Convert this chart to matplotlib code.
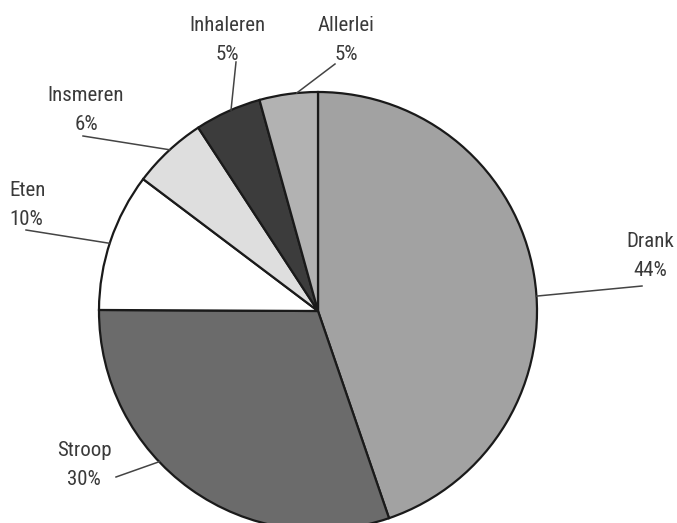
import numpy as np
import matplotlib
matplotlib.use("Agg")
import matplotlib.pyplot as plt
from matplotlib import font_manager

categories = ["Drank", "Stroop", "Eten", "Insmeren", "Inhaleren", "Allerlei"]
values = [44.7, 30.3, 10.2, 5.5, 4.9, 4.3]
pct_labels = ["44%", "30%", "10%", "6%", "5%", "5%"]
colors = ["#a2a2a2", "#6b6b6b", "#ffffff", "#dedede", "#3c3c3c", "#b2b2b2"]

names = {f.name for f in font_manager.fontManager.ttflist}
fam = "DejaVu Sans"
for cand in ["Liberation Sans Narrow", "Roboto Condensed", "Roboto", "Liberation Sans"]:
    if cand in names:
        fam = cand
        break

W, H = 677, 523
fig = plt.figure(figsize=(W / 100, H / 100), dpi=100)
ax = fig.add_axes([0, 0, 1, 1])

cx, cy, r = 318, H - 311, 219
wedges, _ = ax.pie(values, colors=colors, startangle=90, counterclock=False,
                   center=(cx, cy), radius=r, frame=True,
                   wedgeprops=dict(edgecolor="#1a1a1a", linewidth=1.6))
ax.set_xlim(0, W)
ax.set_ylim(0, H)
ax.set_aspect("equal")
ax.axis("off")

# label text positions (pixel coords from top) and leader line ends
text_pos = {
    "Drank": (650, 256, "center"),
    "Stroop": (84, 465, "center"),
    "Eten": (9, 205, "left"),
    "Insmeren": (86, 110, "center"),
    "Inhaleren": (227, 40, "center"),
    "Allerlei": (346, 40, "center"),
}
line_end = {
    "Drank": (642, 286),
    "Stroop": (116, 477),
    "Eten": (26, 230),
    "Insmeren": (83, 136),
    "Inhaleren": (236, 62),
    "Allerlei": (335, 64),
}
line_ang = {
    "Drank": 3.9, "Stroop": -136.5, "Eten": 162.0,
    "Insmeren": 132.6, "Inhaleren": 113.4, "Allerlei": 95.6,
}

for w, name, pct in zip(wedges, categories, pct_labels):
    tx, ty, ha = text_pos[name]
    ax.text(tx, H - ty, f"{name}\n{pct}", ha=ha, va="center", multialignment=ha,
            fontsize=15, family=fam, color="#3a3a3a", linespacing=1.62)
    a = np.deg2rad(line_ang[name])
    sx, sy = cx + r * np.cos(a), cy + r * np.sin(a)
    ex, ey = line_end[name]
    ax.plot([sx, ex], [sy, H - ey], color="#444444", lw=1.1)

fig.savefig("out.png", dpi=100, facecolor="white")
